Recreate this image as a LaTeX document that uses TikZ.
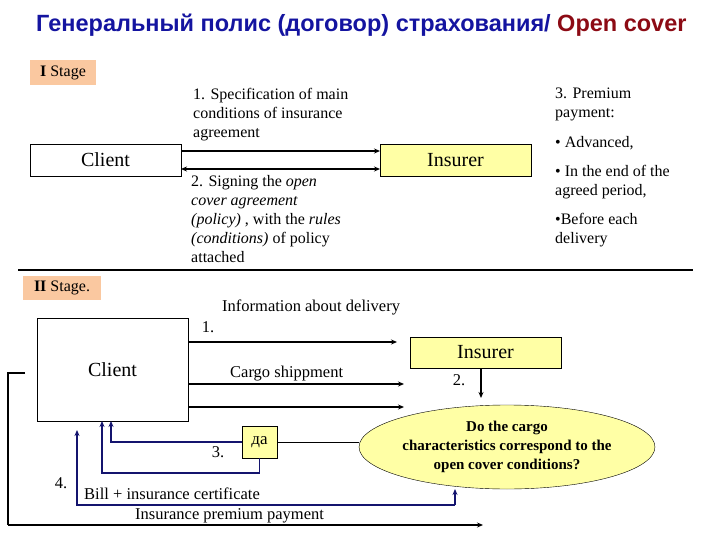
\documentclass[tikz,border=0pt]{standalone}
\usepackage{fontspec}
\setmainfont{Liberation Serif}
\newfontfamily\titlefont{Liberation Sans}
\usetikzlibrary{arrows.meta,shapes.geometric}
\definecolor{tblue}{RGB}{20,20,160}
\definecolor{tred}{RGB}{140,10,20}
\definecolor{stagefill}{RGB}{250,200,160}
\definecolor{yel}{RGB}{255,255,165}
\definecolor{navy}{RGB}{20,20,110}
\begin{document}
\begin{tikzpicture}[x=1pt,y=-1pt,
 box/.style={draw,line width=0.8pt,inner sep=0},
 stg/.style={fill=stagefill,font=\fontsize{16}{18}\selectfont,inner sep=0},
 txt/.style={align=left,anchor=north west,inner sep=0,font=\fontsize{16}{19}\selectfont},
 lbl/.style={inner sep=0,font=\fontsize{16.5}{18}\selectfont},
 arr/.style={line width=1.2pt,-{Stealth[length=6pt,width=5pt]}},
 barr/.style={line width=1.2pt,draw=navy,-{Stealth[length=6pt,width=5pt]}},
 bl/.style={line width=1.2pt,draw=navy}]
\useasboundingbox (0,0) rectangle (720,540);
\node[font=\titlefont\bfseries\fontsize{23.5}{26}\selectfont,anchor=west,inner sep=0] (title) at (36,25) {\textcolor{tblue}{Генеральный полис (договор) страхования/} \textcolor{tred}{Open cover}};
% Stage I
\node[stg,minimum width=66,minimum height=25] (s1) at (63,73) {\textbf{I} Stage};
\node[box,minimum width=151,minimum height=32,font=\fontsize{20}{22}\selectfont] (c1) at (105.5,160) {Client};
\node[box,fill=yel,minimum width=151,minimum height=32,font=\fontsize{20}{22}\selectfont] (i1) at (455.5,160) {Insurer};
\coordinate (a1) at (181,151); \coordinate (b1) at (380,151);
\coordinate (a2) at (181,169); \coordinate (b2) at (380,169);
\draw[arr] (a1) -- (b1);
\draw[line width=1.2pt,{Stealth[length=6pt,width=5pt]}-{Stealth[length=6pt,width=5pt]}] (a2) -- (b2);
\node[txt] (t1) at (193,88) {1. Specification of main\\conditions of insurance\\agreement};
\node[txt] (t2) at (191,175) {2. Signing the \textit{open}\\\textit{cover agreement}\\\textit{(policy)} , with the \textit{rules}\\\textit{(conditions)} of policy\\attached};
\node[txt] (t3) at (555,88) {3. Premium\\payment:};
\node[txt] (t4) at (555,136) {• Advanced,};
\node[txt] (t5) at (555,165) {• In the end of the\\agreed period,};
\node[txt] (t6) at (555,213) {•Before each\\delivery};
\coordinate (d1) at (18,270); \coordinate (d2) at (693,270);
\draw[line width=2pt] (d1) -- (d2);
% Stage II
\node[stg,minimum width=78,minimum height=24] (s2) at (62,288) {\textbf{II} Stage.};
\node[box,minimum width=151,minimum height=103,font=\fontsize{20}{22}\selectfont] (c2) at (112.5,369.5) {Client};
\node[box,fill=yel,minimum width=151,minimum height=31,font=\fontsize{20}{22}\selectfont] (i2) at (485.5,352.5) {Insurer};
\node[draw,ellipse,fill=yel,minimum width=242,minimum height=84,inner sep=0,align=center,font=\bfseries\fontsize{15}{19}\selectfont] (e) at (507,447) {Do the cargo\\characteristics correspond to the\\open cover conditions?};
\node[box,fill=yel,minimum width=35,minimum height=32,font=\fontsize{17}{18}\selectfont] (da) at (259.5,442) {да};
\coordinate (p1) at (189,342); \coordinate (q1) at (397,342);
\coordinate (p2) at (189,384); \coordinate (q2) at (404,384);
\coordinate (p3) at (189,407); \coordinate (q3) at (404,407);
\draw[arr] (p1) -- (q1);
\draw[arr] (p2) -- (q2);
\draw[arr] (p3) -- (q3);
\draw[arr] (481,368) -- (481,398);
\draw[line width=0.8pt] (e.west |- da.east) -- (da.east);
\draw[barr] (da.west) -| (111,421);
\draw[barr] (da.south) |- (102,473) -- (102,421);
\draw[barr] (455,505) -- (455,489);
\draw[barr] (455,505) -| (77,430);
\draw[line width=1.2pt] (25,373) -- (8,373) -- (8,525);
\draw[arr] (8,525) -- (483,525);
\node[lbl] (l1) at (208,327) {1.};
\node[lbl,anchor=west] (l1t) at (222,307) {Information about delivery};
\node[lbl,anchor=west] (l2t) at (230,374) {Cargo shippment};
\node[lbl] (l2) at (459,380) {2.};
\node[lbl] (l3) at (218,452) {3.};
\node[lbl] (l4) at (61,483) {4.};
\node[lbl,anchor=west] (l5) at (84,494) {Bill + insurance certificate};
\node[lbl,anchor=west] (l6) at (135,516) {Insurance premium payment};
\end{tikzpicture}
\end{document}
